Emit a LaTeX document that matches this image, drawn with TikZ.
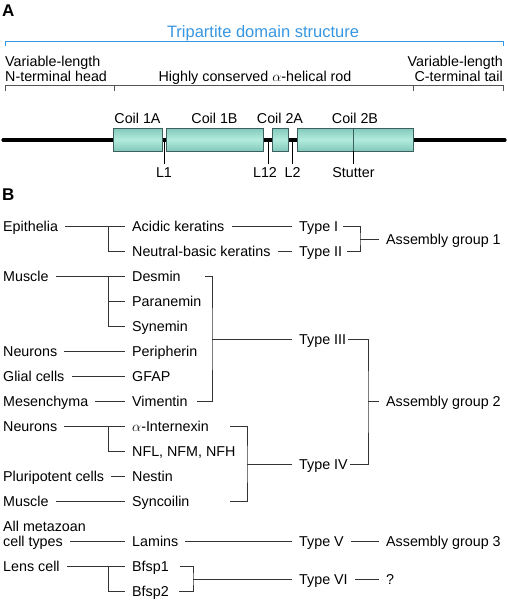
\documentclass[tikz,border=0pt]{standalone}
\usepackage{fontspec}
\setmainfont{Liberation Sans}
\usetikzlibrary{positioning}

\definecolor{titleblue}{RGB}{55,150,225}
\definecolor{coilmid}{RGB}{178,236,222}
\definecolor{coilout}{RGB}{130,200,185}
\definecolor{coiledge}{RGB}{60,95,95}
\definecolor{bracketgray}{RGB}{85,85,85}

\tikzset{
  lab/.style={anchor=west, inner xsep=7pt, inner ysep=0pt, text height=12pt, text depth=2pt},
  link/.style={line width=0.7pt, draw=black!80},
  coil/.style={draw=coiledge, line width=0.7pt, inner sep=0pt, minimum height=23pt,
    top color=coilout, bottom color=coilout, middle color=coilmid},
  panel/.style={anchor=base west, inner sep=0pt, font=\fontsize{17}{17}\selectfont\bfseries},
}

\begin{document}
\begin{tikzpicture}[x=1pt,y=-1pt,font=\fontsize{14.3}{15}\selectfont]
\useasboundingbox (0,0) rectangle (508,600);

% ---------- panel A
\node[panel] (A) at (2,16.7) {A};

% domain brackets
\node (title) [anchor=base, inner sep=0pt, text=titleblue, font=\fontsize{16.5}{17}\selectfont] at (263,37.3) {Tripartite domain structure};
\coordinate (blueL) at (5,46);
\coordinate (blueR) at (503,46);
\draw[titleblue, line width=0.9pt] (blueL) -- ++(0,-5) -| (blueR);

\node (head) [anchor=south west, align=left, inner sep=0pt] at (5,81.7) {Variable-length\\N-terminal head};
\node (rod) [anchor=base, inner sep=0pt] at (255,81.7) {Highly conserved $\alpha$-helical rod};
\node (tail) [anchor=south east, align=right, inner sep=0pt] at (503,81.7) {Variable-length\\C-terminal tail};

\coordinate (g1) at (5,91);
\coordinate (g2) at (114,91);
\coordinate (g3) at (413,91);
\coordinate (g4) at (503,91);
\draw[bracketgray, line width=0.8pt] (g1) -- ++(0,-6) -| (g4);
\draw[bracketgray, line width=0.8pt] (g2) -- ++(0,-6);
\draw[bracketgray, line width=0.8pt] (g3) -- ++(0,-6);

% rod and coils
\coordinate (rodL) at (3,140);
\coordinate (rodR) at (505,140);
\draw[line width=3.2pt, line cap=round] (rodL) -- (rodR);

\node[coil, minimum width=49pt] (c1a) at (137.5,139.5) {};
\node[coil, minimum width=97pt] (c1b) at (214.5,139.5) {};
\node[coil, minimum width=16pt] (c2a) at (280,139.5) {};
\node[coil, minimum width=116pt] (c2b) at (355,139.5) {};

\node (c1alab) [above=4pt of c1a, anchor=base, inner sep=0pt] {Coil 1A};
\node (c1blab) [above=4pt of c1b, anchor=base, inner sep=0pt] {Coil 1B};
\node (c2alab) [above=4pt of c2a, anchor=base, inner sep=0pt] {Coil 2A};
\node (c2blab) [above=4pt of c2b, anchor=base, inner sep=0pt] {Coil 2B};

% linkers
\coordinate (l1) at (164,164);
\coordinate (l12) at (268,164);
\coordinate (l2) at (292,164);
\coordinate (stut) at (353,164);
\draw[line width=0.6pt] (l1) -- (l1 |- rodL);
\draw[line width=0.6pt] (l12) -- (l12 |- rodL);
\draw[line width=0.6pt] (l2) -- (l2 |- rodL);
\draw[line width=0.6pt, coiledge] (stut |- c2b.south) -- (stut |- c2b.north);
\draw[line width=0.6pt] (stut) -- (stut |- c2b.south);

\node (l1lab) [anchor=base, inner sep=0pt] at (164,177.7) {L1};
\node (l12lab) [anchor=base, inner sep=0pt] at (265,177.7) {L12};
\node (l2lab) [anchor=base, inner sep=0pt] at (292.5,177.7) {L2};
\node (stutlab) [anchor=base, inner sep=0pt] at (353.5,177.7) {Stutter};

% ---------- panel B
\node[panel] (B) at (2,200) {B};

% tissues
\node[lab] (epi) at (-4,226.7) {Epithelia};
\node[lab] (mus1) at (-4,276.7) {Muscle};
\node[lab] (neur1) at (-4,351.7) {Neurons};
\node[lab] (glia) at (-4,376.7) {Glial cells};
\node[lab] (mesen) at (-4,401.7) {Mesenchyma};
\node[lab] (neur2) at (-4,426.7) {Neurons};
\node[lab] (pluri) at (-4,476.7) {Pluripotent cells};
\node[lab] (mus2) at (-4,501.7) {Muscle};
\node[lab] (allmeta) at (-4,526.7) {All metazoan};
\node[lab] (celltypes) at (-4,541.7) {cell types};
\node[lab] (lens) at (-4,566.7) {Lens cell};

% proteins
\node[lab] (acid) at (125,226.7) {Acidic keratins};
\node[lab] (neut) at (125,251.7) {Neutral-basic keratins};
\node[lab] (desmin) at (125,276.7) {Desmin};
\node[lab] (paran) at (125,301.7) {Paranemin};
\node[lab] (synem) at (125,326.7) {Synemin};
\node[lab] (periph) at (125,351.7) {Peripherin};
\node[lab] (gfap) at (125,376.7) {GFAP};
\node[lab] (vim) at (125,401.7) {Vimentin};
\node[lab] (intern) at (125,426.7) {$\alpha$-Internexin};
\node[lab] (nfl) at (125,451.7) {NFL, NFM, NFH};
\node[lab] (nestin) at (125,476.7) {Nestin};
\node[lab] (syncoil) at (125,501.7) {Syncoilin};
\node[lab] (lamins) at (125,541.7) {Lamins};
\node[lab] (bfsp1) at (125,566.7) {Bfsp1};
\node[lab] (bfsp2) at (125,591.7) {Bfsp2};

% types
\node[lab] (t1) at (292,226.7) {Type I};
\node[lab] (t2) at (292,251.7) {Type II};
\node[lab] (t3) at (292,339.2) {Type III};
\node[lab] (t4) at (292,464.2) {Type IV};
\node[lab] (t5) at (292,541.7) {Type V};
\node[lab] (t6) at (292,579.2) {Type VI};

% assembly groups
\node[lab] (ag1) at (379,239.2) {Assembly group 1};
\node[lab] (ag2) at (379,401.7) {Assembly group 2};
\node[lab] (ag3) at (379,541.7) {Assembly group 3};
\node[lab] (unk) at (379,579.2) {?};

% branch points
\coordinate (bepi) at (108,226.7);
\coordinate (bmus) at (108,276.7);
\coordinate (bneur) at (108,426.7);
\coordinate (blens) at (108,566.7);
\coordinate (b1) at (360,239.2);
\coordinate (b3) at (212,339.2);
\coordinate (b4) at (247,464.2);
\coordinate (b23) at (368,401.7);
\coordinate (b6) at (193,579.2);

% keratins
\draw[link] (epi.east) -- (acid.west);
\draw[link] (bepi) |- (neut.west);
\draw[link] (acid.east) -- (t1.west);
\draw[link] (neut.east) -- (t2.west);
\draw[link] ([xshift=-17pt]b1 |- t1) -| (b1) |- ([xshift=-13pt]b1 |- t2);
\draw[link] (b1) -- (ag1.west);

% type III
\draw[link] (mus1.east) -- (desmin.west);
\draw[link] (bmus) |- (paran.west);
\draw[link] (bmus) |- (synem.west);
\draw[link] (neur1.east) -- (periph.west);
\draw[link] (glia.east) -- (gfap.west);
\draw[link] (mesen.east) -- (vim.west);
\draw[link] ([xshift=-7pt]b3 |- desmin) -| (b3) |- ([xshift=-15pt]b3 |- vim);
\draw[link] (b3) -- (t3.west);

% type IV
\draw[link] (neur2.east) -- (intern.west);
\draw[link] (bneur) |- (nfl.west);
\draw[link] (pluri.east) -- (nestin.west);
\draw[link] (mus2.east) -- (syncoil.west);
\draw[link] ([xshift=-17pt]b4 |- intern) -| (b4) |- ([xshift=-17pt]b4 |- syncoil);
\draw[link] (b4) -- (t4.west);

% group 2
\draw[link] ([xshift=-20pt]b23 |- t3) -| (b23) |- ([xshift=-18pt]b23 |- t4);
\draw[link] (b23) -- (ag2.west);

% lamins
\draw[link] (celltypes.east) -- (lamins.west);
\draw[link] (lamins.east) -- (t5.west);
\draw[link] (t5.east) -- (ag3.west);

% lens
\draw[link] (lens.east) -- (bfsp1.west);
\draw[link] (blens) |- (bfsp2.west);
\draw[link] ([xshift=-13pt]b6 |- bfsp1) -| (b6) |- ([xshift=-14pt]b6 |- bfsp2);
\draw[link] (b6) -- (t6.west);
\draw[link] (t6.east) -- (unk.west);
\end{tikzpicture}
\end{document}
